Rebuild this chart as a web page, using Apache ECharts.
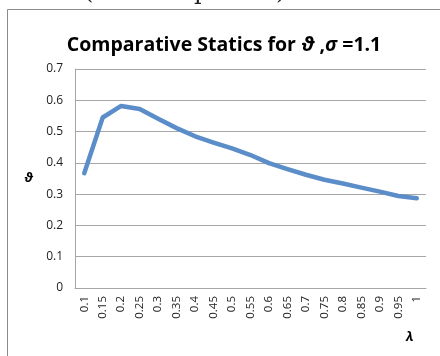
<!DOCTYPE html>
<html>
<head>
<meta charset="utf-8">
<script src="https://cdn.jsdelivr.net/npm/echarts@6/dist/echarts.min.js"></script>
<style>
  html, body { margin: 0; padding: 0; background: #fff; }
  #main { width: 440px; height: 356px; }
</style>
</head>
<body>
<div id="main"></div>
<script>
// lambda categories
var lambdas = ['0.1', '0.15', '0.2', '0.25', '0.3', '0.35', '0.4', '0.45', '0.5', '0.55',
               '0.6', '0.65', '0.7', '0.75', '0.8', '0.85', '0.9', '0.95', '1'];
// theta values
var theta = [0.367, 0.545, 0.582, 0.572, 0.541, 0.511, 0.485, 0.465, 0.446, 0.425,
             0.399, 0.380, 0.362, 0.346, 0.334, 0.321, 0.308, 0.294, 0.287];
var yTicks = [0, 0.1, 0.2, 0.3, 0.4, 0.5, 0.6, 0.7];

var chart = echarts.init(document.getElementById('main'));

var font = '"Open Sans", Lato, sans-serif';

var option = {
    animation: false,
    title: {
        text: 'Comparative Statics for {i|ϑ} ,{i|σ} =1.1',
        left: 219,
        textAlign: 'center',
        top: 30,
        textStyle: {
            fontFamily: font,
            fontWeight: 'bold',
            fontSize: 19.5,
            color: '#000',
            rich: {
                i: { fontFamily: font, fontWeight: 'bold', fontStyle: 'italic', fontSize: 19.5, color: '#000' }
            }
        }
    },
    grid: { left: 75, right: 14, top: 69, bottom: 68 },
    xAxis: {
        type: 'category',
        data: lambdas,
        boundaryGap: true,
        axisLine: { lineStyle: { color: '#a6a6a6', width: 1 } },
        axisTick: { show: false },
        axisLabel: {
            rotate: 90,
            interval: 0,
            margin: 8,
            fontFamily: font,
            fontSize: 11.5,
            color: '#222'
        }
    },
    yAxis: {
        type: 'value',
        min: 0,
        max: 0.7,
        interval: 0.1,
        name: 'ϑ',
        nameLocation: 'middle',
        nameRotate: 0,
        nameGap: 42,
        nameTextStyle: { fontFamily: font, fontWeight: 'bold', fontStyle: 'italic', fontSize: 13, color: '#000' },
        axisLine: { show: true, lineStyle: { color: '#a6a6a6', width: 1 } },
        axisTick: { show: false },
        splitLine: { lineStyle: { color: '#a6a6a6', width: 1 } },
        axisLabel: {
            margin: 12,
            fontFamily: font,
            fontSize: 12,
            color: '#222',
            formatter: function (v) {
                var t = yTicks.filter(function (x) { return Math.abs(x - v) < 1e-6; });
                return t.length ? String(t[0]) : '';
            }
        }
    },
    series: [{
        type: 'line',
        data: theta,
        showSymbol: false,
        symbol: 'none',
        lineStyle: { color: '#5b8dc9', width: 4.5, cap: 'round', join: 'round' }
    }],
    graphic: [
        {
            type: 'rect',
            shape: { x: 7.5, y: 9.5, width: 460, height: 380 },
            style: { fill: 'none', stroke: '#8c8c8c', lineWidth: 1 }
        },
        {
            type: 'text',
            left: 406,
            top: 331,
            style: { text: 'λ', fontFamily: font, fontWeight: 'bold', fontStyle: 'italic', fontSize: 13, fill: '#000' }
        },
        {
            type: 'text',
            x: 84, y: -19,
            style: { text: '(', fontFamily: '"DejaVu Serif", serif', fontSize: 24, fill: '#222' }
        },
        {
            type: 'text',
            x: 194, y: -19,
            style: { text: 'p', fontFamily: '"DejaVu Serif", serif', fontSize: 24, fill: '#222' }
        },
        {
            type: 'text',
            x: 276, y: -19,
            style: { text: ')', fontFamily: '"DejaVu Serif", serif', fontSize: 24, fill: '#222' }
        }
    ]
};

chart.setOption(option);
</script>
</body>
</html>
